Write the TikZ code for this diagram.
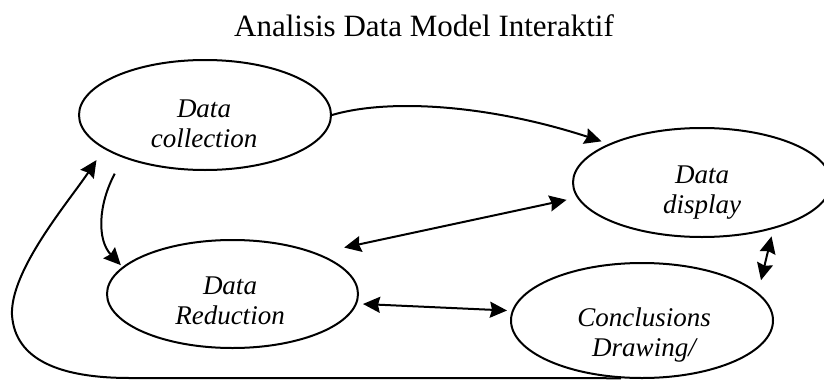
\documentclass[tikz,border=0pt]{standalone}
\usepackage{fontspec}
\setmainfont{Liberation Serif}
\usetikzlibrary{arrows.meta,shapes.geometric,calc}
\begin{document}
\begin{tikzpicture}[x=1pt,y=-1pt,
  stage/.style={ellipse, draw, line width=2pt, inner sep=0pt},
  lbl/.style={anchor=north, inner sep=0pt, align=center, font=\fontsize{27}{30}\selectfont\itshape},
  arr/.style={line width=2pt, -{Stealth[length=17pt,width=16pt,inset=2pt]}},
  darr/.style={line width=2pt, {Stealth[length=17pt,width=16pt,inset=2pt]}-{Stealth[length=17pt,width=16pt,inset=2pt]}},
]
\useasboundingbox (0,0) rectangle (824,380);
\node[anchor=base, inner sep=0pt, font=\fontsize{31}{36}\selectfont] (title) at (424,36) {Analisis Data Model Interaktif};
\node[stage, minimum width=252pt, minimum height=110pt] (coll) at (205,115) {};
\node[stage, minimum width=258pt, minimum height=109pt] (disp) at (702,182.5) {};
\node[stage, minimum width=251pt, minimum height=108pt] (red) at (232.5,294) {};
\node[stage, minimum width=262pt, minimum height=115pt] (conc) at (642,320.5) {};
\node[lbl] (tcoll) at (204,100) {Data\\collection};
\node[lbl] (tdisp) at (702,166) {Data\\display};
\node[lbl] (tred) at (230,277) {Data\\Reduction};
\node[lbl] (tconc) at (644,308) {Conclusions\\Drawing/};
\draw[arr] (coll.east) .. controls (390,98) and (490,105) .. ([shift={(-6pt,3pt)}]disp.158);
\draw[arr] ([shift={(-3pt,-18pt)}]coll.205) .. controls (98,205) and (97,240) .. ([xshift=-4pt]red.165);
\draw[arr] (conc.250) -- (130,378) .. controls (60,378) and (15,360) .. (12,315) .. controls (10,270) and (70,200) .. ([yshift=-16pt]coll.195);
\draw[darr] ([shift={(19pt,9pt)}]red.22) -- ([xshift=-12pt]disp.188);
\draw[darr] ([shift={(4pt,-10pt)}]red.east) -- ([shift={(-3pt,10pt)}]conc.west);
\draw[darr] ([yshift=-7pt]disp.326) -- ([yshift=15pt]conc.12);
\end{tikzpicture}
\end{document}
